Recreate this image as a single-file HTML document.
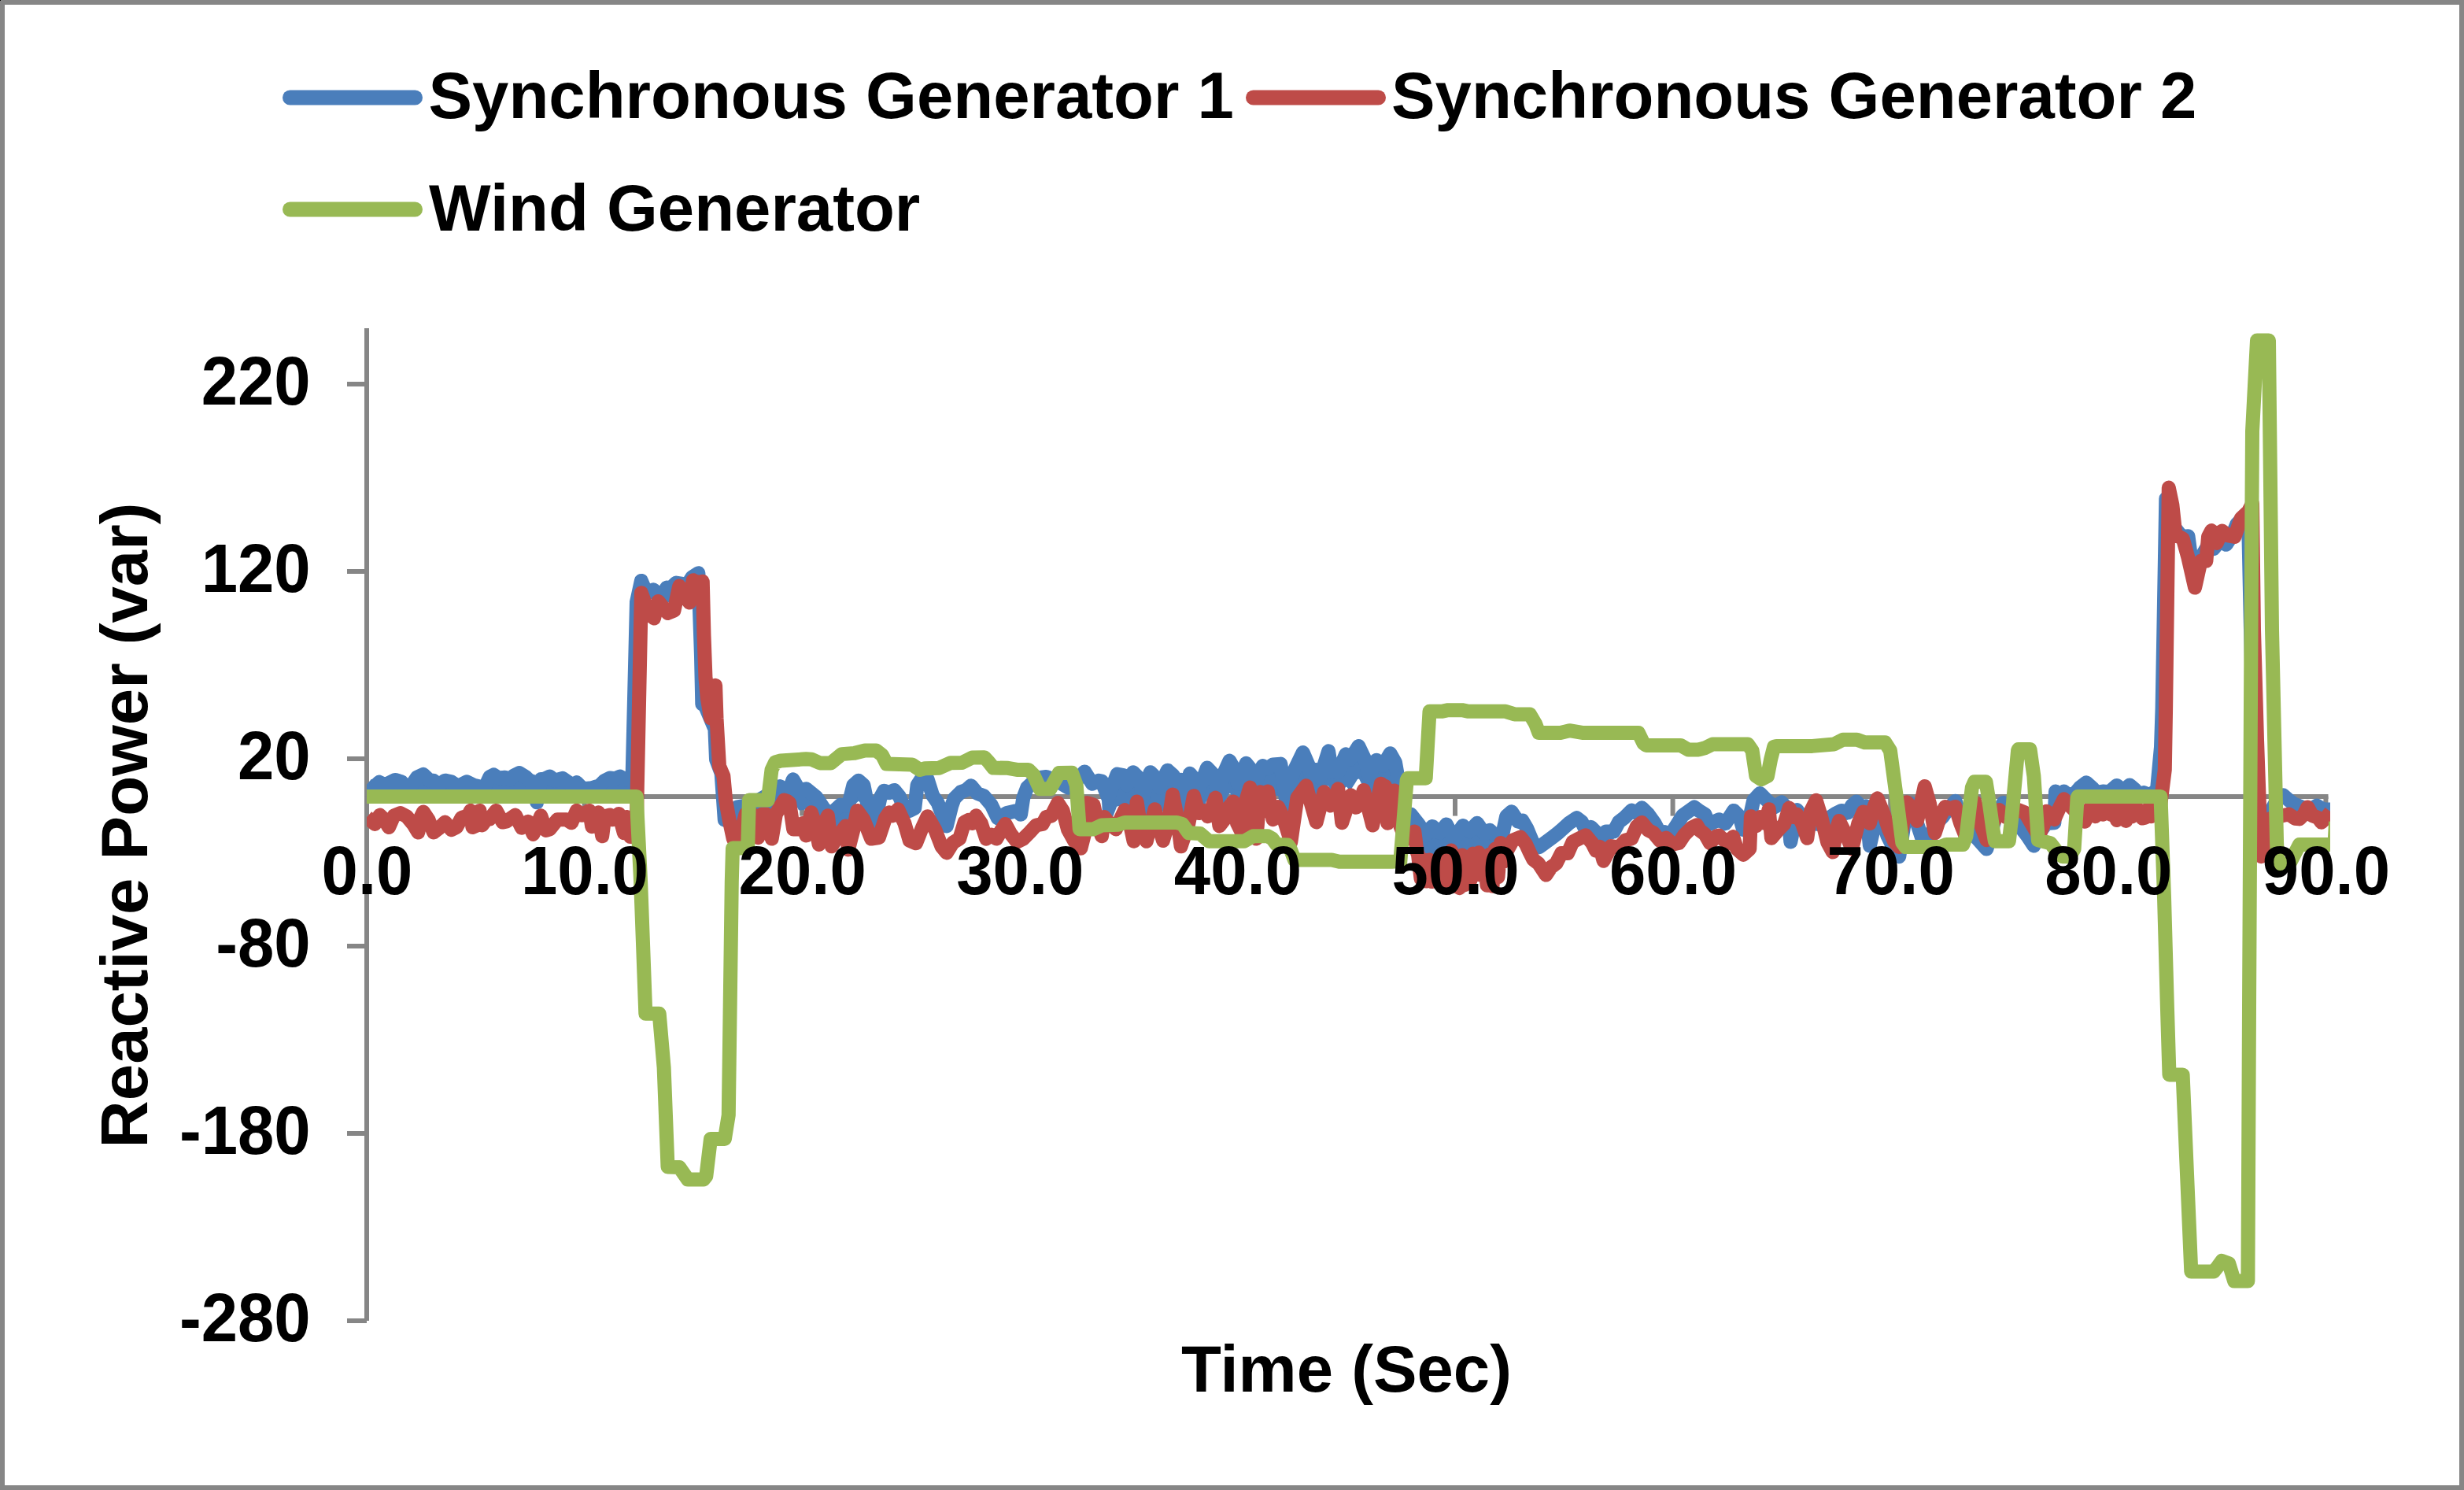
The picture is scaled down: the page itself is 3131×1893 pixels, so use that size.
<!DOCTYPE html>
<html><head><meta charset="utf-8"><title>Reactive Power</title>
<style>
html,body{margin:0;padding:0;background:#fff;}
body{width:3131px;height:1893px;overflow:hidden;}
svg{display:block;}
text{font-family:"Liberation Sans",sans-serif;font-weight:bold;font-size:83.33px;fill:#000;}
.s{fill:none;stroke-width:18;stroke-linejoin:round;stroke-linecap:butt;}
.ax{stroke:#868686;stroke-width:6;fill:none;}
</style></head><body>
<svg width="3131" height="1893" viewBox="0 0 3131 1893">
<rect x="0" y="0" width="3131" height="1893" fill="#868686"/>
<rect x="6" y="6" width="3119" height="1881" fill="#fff"/>
<rect x="0" y="0" width="1" height="1" fill="#000"/>

<g class="ax">
<line x1="466.0" y1="417" x2="466.0" y2="1678.0"/>
<line x1="441.0" y1="488.0" x2="466.0" y2="488.0"/>
<line x1="441.0" y1="726.0" x2="466.0" y2="726.0"/>
<line x1="441.0" y1="964.0" x2="466.0" y2="964.0"/>
<line x1="441.0" y1="1202.0" x2="466.0" y2="1202.0"/>
<line x1="441.0" y1="1440.0" x2="466.0" y2="1440.0"/>
<line x1="441.0" y1="1678.0" x2="466.0" y2="1678.0"/>
<line x1="463.0" y1="1012.1" x2="2958.5" y2="1012.1"/>
<line x1="466.0" y1="1011.6" x2="466.0" y2="1036.6"/>
<line x1="742.6" y1="1011.6" x2="742.6" y2="1036.6"/>
<line x1="1019.2" y1="1011.6" x2="1019.2" y2="1036.6"/>
<line x1="1295.8" y1="1011.6" x2="1295.8" y2="1036.6"/>
<line x1="1572.4" y1="1011.6" x2="1572.4" y2="1036.6"/>
<line x1="1849.0" y1="1011.6" x2="1849.0" y2="1036.6"/>
<line x1="2125.6" y1="1011.6" x2="2125.6" y2="1036.6"/>
<line x1="2402.2" y1="1011.6" x2="2402.2" y2="1036.6"/>
<line x1="2678.8" y1="1011.6" x2="2678.8" y2="1036.6"/>
<line x1="2955.4" y1="1011.6" x2="2955.4" y2="1036.6"/>
</g>
<clipPath id="pc"><rect x="466" y="380" width="2495" height="1320"/></clipPath>
<g clip-path="url(#pc)">
<path fill="#4A7EBB" d="M466,996.6 L468,998.1 L470,999.8 L472,1001.5 L474,1001.3 L476,999.4 L478,997.5 L480,995.5 L482,993.8 L484,994.8 L486,995.8 L488,996.8 L490,997.0 L492,996.0 L494,995.0 L496,994.0 L498,993.0 L500,992.0 L502,991.0 L504,991.4 L506,992.0 L508,992.6 L510,993.2 L512,996.3 L514,999.8 L516,1001.3 L518,999.9 L520,998.5 L522,997.1 L524,995.6 L526,993.4 L528,990.4 L530,987.6 L532,986.7 L534,985.7 L536,984.8 L538,984.0 L540,985.9 L542,987.8 L544,989.8 L546,991.7 L548,991.7 L550,991.7 L552,992.7 L554,994.4 L556,996.2 L558,997.0 L560,995.6 L562,994.2 L564,992.8 L566,991.8 L568,992.2 L570,992.6 L572,993.0 L574,993.6 L576,995.0 L578,996.4 L580,997.7 L582,998.9 L584,997.9 L586,996.9 L588,995.9 L590,994.9 L592,993.9 L594,993.8 L596,994.8 L598,995.8 L600,996.8 L602,997.6 L604,998.1 L606,998.6 L608,999.1 L610,999.6 L612,999.4 L614,998.7 L616,998.0 L618,996.3 L620,991.9 L622,987.6 L624,986.0 L626,985.0 L628,984.9 L630,986.2 L632,987.4 L634,988.5 L636,988.3 L638,988.1 L640,987.9 L642,987.8 L644,988.5 L646,989.3 L648,990.0 L650,988.4 L652,986.4 L654,984.8 L656,983.8 L658,982.8 L660,982.2 L662,983.4 L664,984.6 L666,985.8 L668,987.1 L670,989.1 L672,991.0 L674,992.0 L676,992.9 L678,1001.6 L678,1001.6 L678,1004.0 L678,1004.0 L676,1004.0 L674,1004.0 L672,1004.0 L670,1004.0 L668,1004.0 L666,1004.0 L664,1004.0 L662,1004.0 L660,1004.0 L658,1004.0 L656,1004.0 L654,1004.0 L652,1004.0 L650,1004.0 L648,1004.0 L646,1004.0 L644,1004.0 L642,1004.0 L640,1004.0 L638,1004.0 L636,1004.0 L634,1004.0 L632,1004.0 L630,1004.0 L628,1004.0 L626,1004.0 L624,1004.0 L622,1004.0 L620,1004.0 L618,1004.0 L616,1004.0 L614,1004.0 L612,1004.0 L610,1004.0 L608,1004.0 L606,1004.0 L604,1004.0 L602,1004.0 L600,1004.0 L598,1004.0 L596,1004.0 L594,1004.0 L592,1004.0 L590,1004.0 L588,1004.0 L586,1004.0 L584,1004.0 L582,1004.0 L580,1004.0 L578,1004.0 L576,1004.0 L574,1004.0 L572,1004.0 L570,1004.0 L568,1004.0 L566,1004.0 L564,1004.0 L562,1004.0 L560,1004.0 L558,1004.0 L556,1004.0 L554,1004.0 L552,1004.0 L550,1004.0 L548,1004.0 L546,1004.0 L544,1004.0 L542,1004.0 L540,1004.0 L538,1004.0 L536,1004.0 L534,1004.0 L532,1004.0 L530,1004.0 L528,1004.0 L526,1004.0 L524,1004.0 L522,1004.0 L520,1004.0 L518,1004.0 L516,1004.0 L514,1004.0 L512,1004.0 L510,1004.0 L508,1004.0 L506,1004.0 L504,1004.0 L502,1004.0 L500,1004.0 L498,1004.0 L496,1004.0 L494,1004.0 L492,1004.0 L490,1004.0 L488,1004.0 L486,1004.0 L484,1004.0 L482,1004.0 L480,1004.0 L478,1004.0 L476,1004.0 L474,1004.0 L472,1004.0 L470,1004.0 L468,1004.0 L466,1004.0Z M685,1003.0 L687,991.8 L689,990.1 L691,989.9 L693,989.0 L695,988.1 L697,987.2 L699,986.8 L701,988.4 L703,990.0 L705,991.6 L707,991.1 L709,990.5 L711,990.0 L713,989.4 L715,988.9 L717,990.3 L719,991.6 L721,993.0 L723,994.7 L725,996.4 L727,997.0 L729,996.0 L731,995.0 L733,994.5 L735,996.5 L737,998.5 L739,1000.5 L741,1002.3 L743,1002.1 L745,1001.9 L747,1001.6 L749,1001.4 L751,1001.2 L753,1000.9 L755,1000.3 L757,999.7 L759,999.1 L761,998.5 L763,997.1 L765,995.1 L767,993.1 L769,991.4 L771,990.4 L773,989.4 L775,988.5 L777,988.8 L779,989.0 L781,989.3 L783,988.6 L785,987.7 L787,986.9 L789,987.1 L791,988.2 L793,989.3 L795,990.2 L797,990.5 L799,990.9 L801,990.5 L802,990.3 L802,1004.0 L801,1004.0 L799,1004.0 L797,1004.0 L795,1004.0 L793,1004.0 L791,1004.0 L789,1004.0 L787,1004.0 L785,1004.0 L783,1004.0 L781,1004.0 L779,1004.0 L777,1004.0 L775,1004.0 L773,1004.0 L771,1004.0 L769,1004.0 L767,1004.0 L765,1004.0 L763,1004.0 L761,1004.0 L759,1004.0 L757,1004.0 L755,1004.0 L753,1004.0 L751,1004.0 L749,1004.0 L747,1004.0 L745,1004.0 L743,1004.0 L741,1004.0 L739,1004.0 L737,1004.0 L735,1004.0 L733,1004.0 L731,1004.0 L729,1004.0 L727,1004.0 L725,1004.0 L723,1004.0 L721,1004.0 L719,1004.0 L717,1004.0 L715,1004.0 L713,1004.0 L711,1004.0 L709,1004.0 L707,1004.0 L705,1004.0 L703,1004.0 L701,1004.0 L699,1004.0 L697,1004.0 L695,1004.0 L693,1004.0 L691,1004.0 L689,1004.0 L687,1004.0 L685,1004.0Z M937,1025.5 L939,1025.0 L941,1024.6 L943,1024.3 L945,1023.9 L947,1023.6 L949,1023.2 L951,1022.9 L953,1022.6 L955,1022.0 L957,1020.8 L959,1019.7 L961,1018.5 L963,1017.3 L965,1016.2 L967,1015.0 L969,1013.8 L971,1012.6 L973,1011.4 L975,1010.1 L977,1008.9 L979,1007.7 L981,1006.4 L983,1005.0 L985,1003.5 L987,1002.1 L989,1000.7 L991,999.2 L993,1002.4 L995,1006.2 L997,1009.9 L999,1013.6 L1001,1008.3 L1003,1002.9 L1005,997.6 L1007,992.3 L1009,992.7 L1011,996.2 L1013,999.7 L1015,1003.2 L1017,1003.6 L1019,1003.3 L1021,1002.9 L1023,1002.5 L1025,1002.8 L1027,1004.4 L1029,1006.0 L1031,1007.7 L1033,1009.3 L1035,1010.9 L1037,1012.6 L1039,1015.3 L1041,1018.3 L1043,1021.3 L1045,1024.3 L1047,1027.3 L1049,1029.1 L1051,1030.9 L1053,1032.7 L1055,1034.5 L1057,1033.0 L1059,1031.2 L1061,1029.3 L1063,1027.4 L1065,1025.6 L1067,1023.7 L1069,1022.7 L1071,1022.8 L1073,1023.0 L1075,1023.2 L1077,1023.3 L1079,1019.0 L1081,1011.0 L1083,1003.0 L1085,996.9 L1087,995.1 L1089,993.4 L1091,991.8 L1093,993.5 L1095,995.3 L1097,997.0 L1099,1005.4 L1101,1015.4 L1103,1025.4 L1105,1031.9 L1107,1035.5 L1109,1039.1 L1111,1042.7 L1113,1039.7 L1115,1030.2 L1117,1020.7 L1119,1012.7 L1121,1009.1 L1123,1005.4 L1125,1005.3 L1127,1006.0 L1129,1006.8 L1131,1006.6 L1133,1005.6 L1135,1004.6 L1137,1004.6 L1139,1007.1 L1141,1009.6 L1143,1012.2 L1145,1017.1 L1147,1021.9 L1149,1026.7 L1151,1031.5 L1153,1030.8 L1155,1030.2 L1157,1029.3 L1159,1028.3 L1161,1027.3 L1163,1020.4 L1165,1002.7 L1167,995.3 L1169,992.3 L1171,990.1 L1173,990.1 L1175,990.1 L1177,990.1 L1179,991.3 L1181,997.6 L1183,1003.8 L1185,1010.1 L1187,1013.2 L1189,1016.2 L1191,1019.2 L1193,1023.7 L1195,1029.0 L1197,1034.2 L1199,1039.4 L1201,1044.5 L1203,1049.0 L1205,1041.0 L1207,1033.0 L1209,1025.0 L1211,1019.0 L1213,1014.1 L1215,1012.1 L1217,1010.1 L1219,1008.1 L1221,1006.2 L1223,1005.5 L1225,1004.7 L1227,1004.0 L1229,1002.4 L1231,1000.7 L1233,998.9 L1235,999.7 L1237,1002.1 L1239,1004.5 L1241,1006.9 L1243,1008.4 L1245,1009.2 L1247,1010.0 L1249,1010.8 L1251,1012.4 L1253,1014.7 L1255,1017.1 L1257,1019.4 L1259,1021.8 L1261,1025.3 L1263,1029.4 L1265,1033.6 L1267,1037.7 L1269,1039.0 L1271,1037.8 L1273,1036.7 L1275,1035.5 L1277,1034.4 L1279,1033.2 L1281,1032.7 L1283,1032.2 L1285,1031.7 L1287,1031.2 L1289,1030.7 L1291,1030.2 L1293,1030.7 L1295,1032.6 L1297,1034.6 L1299,1022.2 L1301,1011.7 L1303,1006.4 L1305,1001.1 L1307,998.9 L1309,997.1 L1311,995.2 L1313,993.3 L1315,991.5 L1317,989.6 L1319,988.4 L1321,988.1 L1323,987.8 L1325,987.5 L1327,987.3 L1329,987.0 L1331,987.4 L1333,988.1 L1335,988.8 L1337,989.5 L1339,990.2 L1341,991.0 L1343,992.2 L1345,993.4 L1347,994.6 L1349,995.8 L1351,996.9 L1353,998.1 L1355,999.3 L1357,1000.5 L1359,999.0 L1361,997.3 L1363,995.6 L1365,993.9 L1367,992.2 L1369,990.4 L1371,988.2 L1373,986.0 L1375,983.9 L1377,981.7 L1379,981.7 L1381,984.8 L1383,987.9 L1385,991.1 L1387,994.2 L1389,995.3 L1391,994.3 L1393,993.3 L1395,992.3 L1397,991.9 L1399,992.3 L1401,995.1 L1403,1000.3 L1405,1005.5 L1407,1010.7 L1409,1011.2 L1411,1006.0 L1413,1000.7 L1415,995.4 L1417,990.2 L1419,984.9 L1421,983.9 L1423,984.3 L1425,984.7 L1427,985.1 L1429,989.4 L1431,995.3 L1433,994.8 L1435,990.8 L1437,986.8 L1439,982.8 L1441,982.4 L1443,984.4 L1445,986.4 L1447,988.4 L1449,992.3 L1451,1007.0 L1453,1010.0 L1455,1003.4 L1457,996.7 L1459,990.1 L1461,983.5 L1463,982.5 L1465,984.5 L1467,986.5 L1469,989.8 L1471,995.1 L1473,1000.3 L1475,996.6 L1477,992.5 L1479,988.3 L1481,984.1 L1483,980.0 L1485,979.9 L1487,981.7 L1489,983.5 L1491,985.8 L1493,997.1 L1495,1002.3 L1497,998.2 L1499,994.1 L1501,994.3 L1503,1011.6 L1505,1014.3 L1507,1005.3 L1509,996.3 L1511,987.3 L1513,984.0 L1515,986.5 L1517,989.0 L1519,992.7 L1521,999.8 L1523,1004.4 L1525,999.1 L1527,993.8 L1529,988.5 L1531,983.2 L1533,977.9 L1535,976.7 L1537,978.8 L1539,981.0 L1541,983.2 L1543,985.7 L1545,996.2 L1547,1006.7 L1549,1005.7 L1551,998.5 L1553,991.3 L1555,984.1 L1557,978.5 L1559,974.0 L1561,969.5 L1563,967.8 L1565,971.3 L1567,974.8 L1569,978.8 L1571,987.5 L1573,995.6 L1575,990.6 L1577,985.6 L1579,980.7 L1581,975.7 L1583,970.8 L1585,971.8 L1587,974.3 L1589,976.8 L1591,981.9 L1593,989.2 L1595,995.3 L1597,990.7 L1599,986.0 L1601,981.3 L1603,976.6 L1605,973.3 L1607,974.3 L1609,975.3 L1611,976.3 L1613,974.8 L1615,973.3 L1617,971.8 L1619,971.3 L1621,971.1 L1623,971.0 L1625,970.8 L1627,970.6 L1629,982.1 L1631,995.5 L1633,1009.0 L1635,1010.3 L1637,1003.4 L1639,996.6 L1641,989.8 L1643,982.9 L1645,978.1 L1647,974.0 L1649,969.8 L1651,965.7 L1653,961.6 L1655,957.4 L1657,959.0 L1659,963.7 L1661,968.4 L1663,973.1 L1665,982.2 L1667,986.5 L1669,983.5 L1671,980.5 L1673,978.5 L1675,982.5 L1677,986.5 L1679,983.3 L1681,976.9 L1683,970.6 L1685,964.2 L1687,957.9 L1689,960.1 L1691,972.8 L1693,980.5 L1695,980.7 L1697,980.9 L1699,981.1 L1701,979.6 L1703,974.9 L1705,970.3 L1707,965.6 L1709,961.0 L1711,959.4 L1713,961.8 L1715,964.1 L1717,962.8 L1719,959.6 L1721,956.4 L1723,953.2 L1725,950.0 L1727,949.4 L1729,953.6 L1731,957.8 L1733,962.0 L1735,967.5 L1737,976.1 L1739,984.7 L1741,982.4 L1743,978.3 L1745,974.1 L1747,969.9 L1749,965.7 L1751,967.5 L1753,969.4 L1755,971.2 L1757,973.0 L1759,969.9 L1761,966.5 L1763,963.2 L1765,959.8 L1767,958.2 L1769,961.7 L1771,965.2 L1773,968.7 L1775,980.1 L1777,991.5 L1779,1002.9 L1781,1014.3 L1783,1025.6 L1785,1033.7 L1787,1033.9 L1789,1034.1 L1791,1034.3 L1793,1035.0 L1795,1037.5 L1797,1040.1 L1799,1042.6 L1801,1045.1 L1803,1047.8 L1805,1050.8 L1807,1053.8 L1809,1056.8 L1811,1059.8 L1813,1059.7 L1815,1056.9 L1817,1054.2 L1819,1051.4 L1821,1050.7 L1823,1052.3 L1825,1054.0 L1827,1055.7 L1829,1057.3 L1831,1056.4 L1833,1053.8 L1835,1051.2 L1837,1048.6 L1839,1049.5 L1841,1053.3 L1843,1057.1 L1845,1060.9 L1847,1064.8 L1849,1064.1 L1851,1061.1 L1853,1058.1 L1855,1055.1 L1857,1052.1 L1859,1049.1 L1861,1050.9 L1863,1052.7 L1865,1054.5 L1867,1056.3 L1869,1054.3 L1871,1052.2 L1873,1050.0 L1875,1047.9 L1877,1045.9 L1879,1048.8 L1881,1051.6 L1883,1054.5 L1885,1057.3 L1887,1059.3 L1889,1057.8 L1891,1056.3 L1893,1054.8 L1895,1056.6 L1897,1058.6 L1899,1060.7 L1901,1062.7 L1903,1065.5 L1905,1068.3 L1906,1069.7 L1906,1070.9 L1905,1070.9 L1903,1070.9 L1901,1078.5 L1899,1078.5 L1897,1078.5 L1895,1078.5 L1893,1085.6 L1891,1085.6 L1889,1085.6 L1887,1087.7 L1885,1087.7 L1883,1083.3 L1881,1083.3 L1879,1083.3 L1877,1083.3 L1875,1083.3 L1873,1084.6 L1871,1084.6 L1869,1084.6 L1867,1084.6 L1865,1089.6 L1863,1086.4 L1861,1086.4 L1859,1086.4 L1857,1086.4 L1855,1086.4 L1853,1086.4 L1851,1087.7 L1849,1080.5 L1847,1080.5 L1845,1080.5 L1843,1080.5 L1841,1080.5 L1839,1080.5 L1837,1085.3 L1835,1085.3 L1833,1085.3 L1831,1091.0 L1829,1091.0 L1827,1091.0 L1825,1091.0 L1823,1094.4 L1821,1092.4 L1819,1092.4 L1817,1092.4 L1815,1092.4 L1813,1092.3 L1811,1092.3 L1809,1092.3 L1807,1086.0 L1805,1077.6 L1803,1061.9 L1801,1056.7 L1799,1056.7 L1797,1056.7 L1795,1056.7 L1793,1056.7 L1791,1057.5 L1789,1059.2 L1787,1056.1 L1785,1051.1 L1783,1041.5 L1781,1030.2 L1779,1019.0 L1777,1007.8 L1775,1006.4 L1773,1006.4 L1771,1005.2 L1769,1001.7 L1767,998.2 L1765,998.7 L1763,998.7 L1761,998.7 L1759,998.3 L1757,998.3 L1755,998.3 L1753,998.3 L1751,998.3 L1749,999.3 L1747,1009.4 L1745,1014.1 L1743,1018.3 L1741,1016.4 L1739,1008.6 L1737,1004.7 L1735,1004.7 L1733,1002.0 L1731,997.8 L1729,993.6 L1727,989.4 L1725,990.0 L1723,993.2 L1721,996.4 L1719,999.6 L1717,1002.8 L1715,1004.1 L1713,1001.8 L1711,999.4 L1709,1001.0 L1707,1005.6 L1705,1003.4 L1703,1003.4 L1701,1003.4 L1699,1003.4 L1697,1003.4 L1695,1003.4 L1693,1010.4 L1691,1012.8 L1689,1000.1 L1687,997.9 L1685,1004.2 L1683,1007.4 L1681,1007.4 L1679,1007.4 L1677,1008.2 L1675,1016.0 L1673,1018.5 L1671,1020.5 L1669,1013.8 L1667,1006.6 L1665,999.3 L1663,999.2 L1661,999.2 L1659,999.2 L1657,999.0 L1655,997.4 L1653,1000.5 L1651,1003.2 L1649,1006.0 L1647,1008.7 L1645,1011.4 L1643,1016.4 L1641,1029.8 L1639,1036.6 L1637,1042.8 L1635,1037.0 L1633,1033.0 L1631,1029.0 L1629,1022.1 L1627,1010.6 L1625,1010.8 L1623,1011.0 L1621,1011.1 L1619,1011.3 L1617,1011.0 L1615,1005.5 L1613,1005.5 L1611,1005.5 L1609,1005.5 L1607,1005.5 L1605,1009.7 L1603,1009.7 L1601,1009.7 L1599,1009.7 L1597,1009.7 L1595,1014.2 L1593,1001.6 L1591,1001.6 L1589,1001.6 L1587,1001.6 L1585,1001.6 L1583,1001.6 L1581,1008.1 L1579,1014.6 L1577,1021.1 L1575,1030.6 L1573,1023.0 L1571,1018.7 L1569,1018.7 L1567,1014.8 L1565,1011.3 L1563,1007.8 L1561,1009.5 L1559,1014.0 L1557,1018.5 L1555,1024.1 L1553,1031.3 L1551,1024.6 L1549,1014.9 L1547,1014.9 L1545,1014.9 L1543,1014.9 L1541,1014.9 L1539,1014.9 L1537,1018.8 L1535,1016.7 L1533,1017.9 L1531,1023.2 L1529,1028.5 L1527,1028.4 L1525,1021.6 L1523,1014.9 L1521,1011.5 L1519,1011.5 L1517,1011.5 L1515,1011.5 L1513,1011.5 L1511,1016.0 L1509,1026.8 L1507,1037.5 L1505,1047.3 L1503,1051.6 L1501,1034.3 L1499,1029.0 L1497,1019.1 L1495,1010.2 L1493,1010.2 L1491,1010.2 L1489,1010.2 L1487,1010.2 L1485,1010.2 L1483,1020.0 L1481,1024.1 L1479,1028.3 L1477,1032.5 L1475,1036.6 L1473,1030.9 L1471,1029.7 L1469,1029.7 L1467,1026.5 L1465,1024.5 L1463,1022.5 L1461,1023.5 L1459,1030.1 L1457,1036.7 L1455,1043.4 L1453,1041.4 L1451,1027.9 L1449,1021.2 L1447,1021.2 L1445,1021.2 L1443,1021.2 L1441,1021.2 L1439,1022.8 L1437,1026.8 L1435,1030.8 L1433,1029.5 L1431,1029.5 L1429,1029.4 L1427,1025.1 L1425,1024.7 L1423,1024.3 L1421,1023.9 L1419,1024.9 L1417,1030.2 L1415,1035.4 L1413,1040.7 L1411,1041.5 L1409,1039.0 L1407,1039.0 L1405,1039.0 L1403,1039.0 L1401,1035.1 L1399,998.3 L1397,997.9 L1395,998.3 L1393,999.3 L1391,1000.3 L1389,1001.3 L1387,1000.2 L1385,997.1 L1383,993.9 L1381,990.8 L1379,987.7 L1377,987.7 L1375,989.9 L1373,992.0 L1371,994.2 L1369,996.4 L1367,998.2 L1365,999.9 L1363,1001.6 L1361,1003.3 L1359,1005.0 L1357,1006.5 L1355,1005.3 L1353,1004.1 L1351,1002.9 L1349,1001.8 L1347,1000.6 L1345,999.4 L1343,998.2 L1341,997.0 L1339,996.2 L1337,995.5 L1335,994.8 L1333,994.1 L1331,993.4 L1329,993.0 L1327,993.3 L1325,993.5 L1323,993.8 L1321,994.1 L1319,994.4 L1317,995.6 L1315,997.5 L1313,999.3 L1311,1001.2 L1309,1003.1 L1307,1004.9 L1305,1007.1 L1303,1012.4 L1301,1017.7 L1299,1028.2 L1297,1040.6 L1295,1038.6 L1293,1036.7 L1291,1036.2 L1289,1036.7 L1287,1037.2 L1285,1037.7 L1283,1038.2 L1281,1038.7 L1279,1039.2 L1277,1040.4 L1275,1041.5 L1273,1042.7 L1271,1043.8 L1269,1045.0 L1267,1043.7 L1265,1039.6 L1263,1035.4 L1261,1031.3 L1259,1027.8 L1257,1025.4 L1255,1023.1 L1253,1020.7 L1251,1018.4 L1249,1016.8 L1247,1016.0 L1245,1015.2 L1243,1014.4 L1241,1012.9 L1239,1010.5 L1237,1008.1 L1235,1005.7 L1233,1004.9 L1231,1006.7 L1229,1008.4 L1227,1010.0 L1225,1010.7 L1223,1011.5 L1221,1012.2 L1219,1014.1 L1217,1016.1 L1215,1018.1 L1213,1020.1 L1211,1025.0 L1209,1031.0 L1207,1039.0 L1205,1047.0 L1203,1055.0 L1201,1050.5 L1199,1045.4 L1197,1040.2 L1195,1035.0 L1193,1029.7 L1191,1025.2 L1189,1022.2 L1187,1019.2 L1185,1016.1 L1183,1009.8 L1181,1003.6 L1179,997.3 L1177,996.1 L1175,996.1 L1173,996.1 L1171,996.1 L1169,998.3 L1167,1001.3 L1165,1008.7 L1163,1026.4 L1161,1033.3 L1159,1034.3 L1157,1035.3 L1155,1036.2 L1153,1036.8 L1151,1037.5 L1149,1032.7 L1147,1027.9 L1145,1023.1 L1143,1018.2 L1141,1015.6 L1139,1013.1 L1137,1010.6 L1135,1010.6 L1133,1011.6 L1131,1012.6 L1129,1012.8 L1127,1012.0 L1125,1011.3 L1123,1011.4 L1121,1015.1 L1119,1018.7 L1117,1026.7 L1115,1036.2 L1113,1045.7 L1111,1048.7 L1109,1045.1 L1107,1041.5 L1105,1037.9 L1103,1031.4 L1101,1021.4 L1099,1031.4 L1097,1023.0 L1095,1021.3 L1093,1019.5 L1091,1017.8 L1089,1019.4 L1087,1021.1 L1085,1022.9 L1083,1029.0 L1081,1037.0 L1079,1045.0 L1077,1049.3 L1075,1049.2 L1073,1049.0 L1071,1048.8 L1069,1048.7 L1067,1049.7 L1065,1051.6 L1063,1053.4 L1061,1055.3 L1059,1053.1 L1057,1037.2 L1055,1037.2 L1053,1037.2 L1051,1037.2 L1049,1037.2 L1047,1037.2 L1045,1040.2 L1043,1044.3 L1041,1044.3 L1039,1041.3 L1037,1035.7 L1035,1032.9 L1033,1032.9 L1031,1032.9 L1029,1032.0 L1027,1030.4 L1025,1028.8 L1023,1028.5 L1021,1028.9 L1019,1029.3 L1017,1029.6 L1015,1029.2 L1013,1025.7 L1011,1022.2 L1009,1018.7 L1007,1018.3 L1005,1017.7 L1003,1017.0 L1001,1016.7 L999,1016.7 L997,1016.7 L995,1016.7 L993,1016.7 L991,1017.2 L989,1020.6 L987,1024.0 L985,1027.5 L983,1030.9 L981,1032.4 L979,1033.7 L977,1034.5 L975,1034.5 L973,1034.5 L971,1034.5 L969,1034.5 L967,1034.5 L965,1034.5 L963,1037.3 L961,1034.5 L959,1034.5 L957,1034.5 L955,1034.5 L953,1034.5 L951,1034.5 L949,1034.5 L947,1034.5 L945,1034.5 L943,1034.5 L941,1040.2 L939,1047.8 L937,1051.5Z M1908,1065.9 L1910,1056.5 L1912,1047.2 L1914,1037.8 L1916,1035.3 L1918,1033.6 L1920,1031.8 L1922,1033.2 L1924,1036.2 L1926,1039.2 L1928,1042.2 L1930,1043.2 L1932,1043.0 L1934,1042.7 L1936,1045.2 L1938,1048.6 L1940,1052.0 L1942,1056.6 L1944,1061.4 L1946,1066.3 L1948,1071.1 L1950,1072.6 L1952,1073.6 L1954,1074.6 L1956,1075.6 L1958,1074.6 L1960,1073.1 L1962,1071.7 L1964,1070.2 L1966,1068.7 L1968,1067.2 L1970,1065.7 L1972,1064.2 L1974,1062.7 L1976,1061.2 L1978,1059.7 L1980,1058.1 L1982,1056.3 L1984,1054.5 L1986,1052.7 L1988,1051.0 L1990,1049.2 L1992,1047.4 L1994,1045.7 L1996,1044.3 L1998,1043.0 L2000,1041.6 L2002,1040.3 L2004,1039.7 L2006,1041.2 L2008,1042.7 L2010,1044.2 L2012,1048.5 L2014,1052.8 L2016,1056.1 L2018,1054.1 L2020,1052.1 L2022,1051.3 L2024,1053.3 L2026,1055.3 L2028,1057.4 L2030,1061.8 L2032,1066.2 L2034,1065.9 L2036,1063.1 L2038,1060.3 L2040,1057.5 L2042,1056.4 L2044,1056.4 L2046,1056.4 L2048,1056.4 L2050,1056.4 L2052,1053.8 L2054,1050.0 L2056,1046.3 L2058,1043.5 L2060,1042.0 L2062,1040.5 L2064,1038.9 L2066,1036.9 L2068,1034.9 L2070,1032.9 L2072,1030.9 L2074,1029.9 L2076,1030.9 L2078,1031.9 L2080,1032.6 L2082,1030.6 L2084,1028.6 L2086,1026.6 L2088,1028.0 L2090,1030.0 L2092,1032.0 L2094,1034.0 L2096,1036.7 L2098,1039.5 L2100,1042.3 L2102,1045.1 L2104,1048.7 L2106,1052.5 L2108,1056.3 L2110,1060.1 L2112,1060.1 L2114,1058.4 L2116,1057.5 L2118,1058.7 L2120,1060.0 L2122,1061.2 L2124,1058.2 L2126,1055.2 L2128,1052.2 L2130,1049.2 L2132,1046.1 L2134,1042.8 L2136,1039.6 L2138,1036.4 L2140,1034.8 L2142,1033.4 L2144,1031.9 L2146,1030.5 L2148,1029.0 L2150,1027.6 L2152,1026.1 L2154,1026.3 L2156,1027.8 L2158,1029.2 L2160,1030.7 L2162,1031.9 L2164,1033.2 L2166,1034.4 L2168,1038.4 L2170,1043.4 L2172,1046.6 L2174,1045.8 L2176,1044.9 L2178,1044.0 L2180,1043.1 L2182,1042.3 L2184,1041.4 L2186,1042.2 L2188,1043.4 L2190,1044.6 L2192,1045.8 L2194,1043.8 L2196,1040.7 L2198,1037.6 L2200,1034.5 L2202,1031.4 L2204,1030.9 L2206,1032.9 L2208,1034.9 L2210,1036.9 L2212,1043.1 L2214,1050.0 L2216,1053.2 L2218,1050.7 L2219,1049.5 L2219,1059.5 L2218,1060.7 L2216,1063.2 L2214,1060.0 L2212,1053.1 L2210,1046.9 L2208,1044.9 L2206,1042.9 L2204,1040.9 L2202,1041.4 L2200,1044.5 L2198,1047.6 L2196,1050.7 L2194,1053.8 L2192,1055.8 L2190,1054.6 L2188,1053.4 L2186,1052.2 L2184,1051.4 L2182,1052.3 L2180,1053.1 L2178,1054.0 L2176,1054.9 L2174,1055.8 L2172,1056.6 L2170,1053.4 L2168,1048.4 L2166,1044.4 L2164,1043.2 L2162,1041.9 L2160,1040.7 L2158,1039.2 L2156,1037.8 L2154,1036.3 L2152,1036.1 L2150,1037.6 L2148,1039.0 L2146,1040.5 L2144,1041.9 L2142,1043.4 L2140,1044.8 L2138,1046.4 L2136,1049.6 L2134,1052.8 L2132,1056.1 L2130,1059.2 L2128,1062.2 L2126,1065.2 L2124,1066.4 L2122,1064.5 L2120,1064.5 L2118,1064.5 L2116,1064.5 L2114,1064.5 L2112,1064.5 L2110,1062.9 L2108,1060.5 L2106,1058.1 L2104,1057.0 L2102,1055.1 L2100,1052.3 L2098,1049.5 L2096,1046.7 L2094,1044.0 L2092,1042.0 L2090,1040.0 L2088,1038.0 L2086,1036.6 L2084,1038.6 L2082,1040.6 L2080,1042.6 L2078,1041.9 L2076,1040.9 L2074,1039.9 L2072,1040.9 L2070,1042.9 L2068,1044.9 L2066,1046.9 L2064,1048.9 L2062,1050.5 L2060,1052.0 L2058,1053.5 L2056,1056.3 L2054,1060.0 L2052,1063.8 L2050,1066.4 L2048,1066.4 L2046,1066.4 L2044,1066.4 L2042,1066.4 L2040,1067.5 L2038,1070.3 L2036,1073.1 L2034,1075.9 L2032,1076.2 L2030,1071.8 L2028,1067.4 L2026,1065.3 L2024,1063.3 L2022,1061.3 L2020,1061.3 L2018,1061.3 L2016,1061.3 L2014,1061.3 L2012,1058.5 L2010,1054.2 L2008,1052.7 L2006,1051.2 L2004,1049.7 L2002,1050.3 L2000,1051.6 L1998,1053.0 L1996,1054.3 L1994,1055.7 L1992,1057.4 L1990,1059.2 L1988,1061.0 L1986,1062.7 L1984,1064.5 L1982,1066.3 L1980,1068.1 L1978,1069.7 L1976,1071.2 L1974,1072.7 L1972,1074.2 L1970,1075.7 L1968,1077.2 L1966,1078.7 L1964,1080.2 L1962,1081.7 L1960,1083.1 L1958,1084.6 L1956,1085.6 L1954,1084.6 L1952,1083.6 L1950,1082.6 L1948,1081.1 L1946,1076.3 L1944,1071.4 L1942,1066.6 L1940,1062.0 L1938,1058.6 L1936,1055.2 L1934,1052.7 L1932,1053.0 L1930,1053.2 L1928,1052.2 L1926,1049.2 L1924,1046.2 L1922,1043.2 L1920,1041.8 L1918,1043.6 L1916,1045.3 L1914,1047.8 L1912,1057.2 L1910,1070.9 L1908,1070.9Z M2224,1035.8 L2226,1026.8 L2228,1017.8 L2230,1014.9 L2232,1012.7 L2234,1010.5 L2236,1008.3 L2238,1009.7 L2240,1011.7 L2242,1013.6 L2244,1015.6 L2246,1017.6 L2248,1019.5 L2250,1020.9 L2252,1022.3 L2254,1023.7 L2256,1024.9 L2258,1023.5 L2260,1022.0 L2262,1020.6 L2264,1019.4 L2266,1021.6 L2268,1023.8 L2270,1026.0 L2270,1026.0 L2270,1027.5 L2270,1027.5 L2268,1028.5 L2266,1031.6 L2264,1029.4 L2262,1030.6 L2260,1032.0 L2258,1033.5 L2256,1034.9 L2254,1033.7 L2252,1030.8 L2250,1030.8 L2248,1029.5 L2246,1027.6 L2244,1025.6 L2242,1023.6 L2240,1021.7 L2238,1019.7 L2236,1018.3 L2234,1020.5 L2232,1022.7 L2230,1024.9 L2228,1027.8 L2226,1036.8 L2224,1037.4Z M2283,1031.1 L2285,1031.3 L2287,1034.0 L2287,1034.0 L2287,1035.0 L2287,1035.0 L2285,1035.0 L2283,1035.0Z M2292,1039.8 L2294,1041.4 L2294,1041.4 L2294,1044.5 L2294,1044.5 L2292,1041.0Z M2321,1043.7 L2323,1041.2 L2325,1038.7 L2327,1037.1 L2329,1035.9 L2331,1034.6 L2333,1033.5 L2335,1032.5 L2337,1031.5 L2339,1030.5 L2341,1030.1 L2343,1030.7 L2345,1031.3 L2347,1031.9 L2349,1031.0 L2351,1027.4 L2353,1023.8 L2355,1021.9 L2357,1020.1 L2359,1018.6 L2361,1020.6 L2363,1022.6 L2365,1024.6 L2367,1025.5 L2369,1024.9 L2371,1024.2 L2371,1024.2 L2371,1031.9 L2371,1031.9 L2369,1031.9 L2367,1031.9 L2365,1031.9 L2363,1031.9 L2361,1030.6 L2359,1028.6 L2357,1030.1 L2355,1031.9 L2353,1033.8 L2351,1037.4 L2349,1041.0 L2347,1041.9 L2345,1041.3 L2343,1040.7 L2341,1040.1 L2339,1040.5 L2337,1041.5 L2335,1042.5 L2333,1043.1 L2331,1044.6 L2329,1045.9 L2327,1047.1 L2325,1048.7 L2323,1051.2 L2321,1045.2Z M2479,1024.0 L2481,1021.8 L2483,1019.6 L2485,1018.6 L2486,1021.8 L2486,1025.3 L2485,1025.3 L2483,1025.3 L2481,1025.3 L2479,1025.3Z M2541,1028.3 L2543,1024.7 L2545,1021.0 L2547,1023.4 L2549,1027.8 L2551,1032.3 L2551,1032.3 L2551,1035.0 L2551,1035.0 L2549,1032.8 L2547,1030.6 L2545,1029.5 L2543,1029.5 L2541,1029.5Z M2612,1005.5 L2614,1007.5 L2616,1009.5 L2618,1009.5 L2620,1007.7 L2622,1006.0 L2624,1006.7 L2626,1008.5 L2628,1010.3 L2630,1011.9 L2632,1010.5 L2634,1009.1 L2636,1007.7 L2638,1006.3 L2640,1004.0 L2642,1001.6 L2644,999.7 L2646,998.2 L2648,996.6 L2650,995.0 L2652,995.1 L2654,996.9 L2656,998.7 L2658,1000.5 L2660,1002.5 L2662,1004.8 L2664,1007.1 L2666,1006.7 L2668,1006.3 L2670,1005.9 L2672,1005.5 L2674,1005.7 L2676,1005.9 L2678,1006.1 L2680,1006.3 L2682,1004.7 L2684,1003.0 L2686,1001.3 L2688,999.5 L2690,998.0 L2692,999.6 L2694,1001.3 L2696,1003.0 L2698,1004.6 L2700,1003.0 L2702,1001.2 L2704,999.4 L2706,997.6 L2708,999.0 L2710,1000.7 L2712,1002.5 L2714,1004.6 L2716,1007.0 L2718,1008.7 L2720,1008.1 L2722,1007.6 L2724,1007.1 L2726,1007.9 L2728,1008.7 L2730,1009.5 L2732,1010.4 L2734,1008.9 L2736,1007.3 L2737,1006.5 L2737,1016.5 L2736,1017.3 L2734,1018.9 L2732,1020.4 L2730,1019.5 L2728,1018.7 L2726,1017.9 L2724,1017.1 L2722,1017.6 L2720,1018.1 L2718,1018.7 L2716,1017.0 L2714,1014.6 L2712,1012.5 L2710,1010.7 L2708,1009.0 L2706,1007.6 L2704,1009.4 L2702,1011.2 L2700,1013.0 L2698,1014.6 L2696,1013.0 L2694,1011.3 L2692,1009.6 L2690,1008.0 L2688,1009.5 L2686,1011.3 L2684,1013.0 L2682,1014.7 L2680,1016.3 L2678,1016.1 L2676,1015.9 L2674,1015.7 L2672,1015.5 L2670,1015.9 L2668,1016.3 L2666,1016.7 L2664,1017.1 L2662,1014.8 L2660,1012.5 L2658,1010.5 L2656,1008.7 L2654,1006.9 L2652,1005.1 L2650,1005.0 L2648,1006.6 L2646,1008.2 L2644,1009.7 L2642,1011.6 L2640,1014.0 L2638,1016.3 L2636,1017.7 L2634,1019.1 L2632,1020.2 L2630,1018.0 L2628,1015.7 L2626,1015.7 L2624,1015.7 L2622,1015.7 L2620,1015.7 L2618,1015.7 L2616,1018.5 L2614,1017.5 L2612,1015.5Z M2897,1010.9 L2899,1010.6 L2901,1010.3 L2903,1011.9 L2905,1013.6 L2907,1015.4 L2909,1017.1 L2911,1018.6 L2913,1020.1 L2915,1021.4 L2917,1022.2 L2919,1023.1 L2921,1023.9 L2923,1024.7 L2925,1025.6 L2926,1026.0 L2926,1028.0 L2925,1030.0 L2923,1034.1 L2921,1033.9 L2919,1033.1 L2917,1032.2 L2915,1031.4 L2913,1030.1 L2911,1028.6 L2909,1027.1 L2907,1025.4 L2905,1023.6 L2903,1021.9 L2901,1020.3 L2899,1020.6 L2897,1020.9Z M2939,1026.6 L2941,1025.4 L2943,1024.2 L2945,1024.2 L2947,1025.4 L2949,1026.6 L2951,1027.4 L2953,1027.9 L2955,1028.4 L2957,1028.6 L2959,1028.6 L2961,1028.6 L2961,1028.6 L2961,1032.4 L2961,1032.4 L2959,1032.4 L2957,1032.4 L2955,1033.6 L2953,1036.1 L2951,1037.4 L2949,1036.6 L2947,1035.4 L2945,1034.2 L2943,1034.2 L2941,1032.3 L2939,1028.7Z"/>
<path class="s" stroke="#4A7EBB" d="M466.2,996.6 L473,1002.3 L481.9,993.7 L489.2,997.4 L502.2,990.9 L510.3,993.3 L515.2,1001.9 L524.9,995 L529.8,987.7 L537.9,983.9 L546,991.7 L550.9,991.7 L557.4,997.4 L565.5,991.7 L573.6,993.3 L581.8,999 L593.1,993.3 L601.2,997.4 L611,999.8 L617.5,997.4 L622.3,986.9 L627.2,984.4 L633.7,988.5 L641.8,987.7 L648.3,990.1 L653.2,985.2 L659.7,982 L667.8,986.9 L672.7,991.7 L675.9,992.5 L682.1,1019.3 L687.3,990.1 L690.5,990.1 L698.6,986.5 L705.1,991.7 L714.9,988.8 L721.4,993.3 L726.2,997.4 L732.7,994.2 L740.8,1002.3 L752.2,1001.1 L761.9,998.2 L768.4,991.7 L774.9,988.5 L781.4,989.3 L787.9,986.5 L794.4,990.1 L799.3,990.9 L803.5,990 L809,765 L814.9,737.9 L821.6,753.7 L830.3,749.3 L837.7,756.4 L843.1,753.7 L847.1,746.6 L849.8,756.4 L852.5,747 L859.2,740.5 L867.2,741.9 L872.6,744.3 L879.3,733.6 L887.4,728.2 L889,775.2 L891,834.2 L892.3,894.6 L894.5,893.2 L908.4,926.3 L910,964.7 L916.6,982.2 L920.8,1041.5 L926.6,1043.2 L937.1,1025.3 L954.5,1022.3 L969.4,1013.6 L980.7,1006.6 L991.2,999.1 L999,1013.6 L1007.7,990.4 L1015.4,1003.9 L1024.4,1002.3 L1037.3,1012.8 L1047.1,1027.4 L1055.2,1034.7 L1068.2,1022.6 L1077.9,1023.4 L1084.4,997.4 L1090.9,991.7 L1097.4,997.4 L1103.9,1029.9 L1112,1044.5 L1118.5,1013.6 L1123.4,1004.7 L1129.9,1007.1 L1136.4,1003.9 L1142.9,1012 L1151,1031.5 L1155.8,1029.9 L1162.3,1026.6 L1165.6,997.4 L1170.5,990.1 L1178.6,990.1 L1185.1,1010.4 L1191.6,1020.1 L1199.7,1041.2 L1202.9,1049.4 L1209.4,1023.4 L1212.7,1014.4 L1220.8,1006.3 L1227.3,1003.9 L1233.8,998.2 L1241.9,1008 L1250,1011.2 L1259.7,1022.6 L1267.9,1039.6 L1279.2,1033.1 L1292.2,1029.9 L1297.1,1034.7 L1300.3,1013.6 L1305.2,1000.6 L1318.2,988.5 L1329.5,986.9 L1340.9,990.9 L1357.1,1000.6 L1368.5,990.9 L1378.2,980.4 L1388,995.8 L1396.1,991.7 L1400,992.5 L1408.1,1013.6 L1419.5,983.6 L1427.6,985.2 L1431.7,997.4 L1439.8,981.2 L1448.7,990.1 L1451.9,1013.6 L1461.7,981.2 L1468.2,987.7 L1473.1,1000.6 L1483.6,978.7 L1490.9,985.2 L1494.2,1003.9 L1500.6,990.9 L1503.9,1019.3 L1512,982.8 L1518.5,990.9 L1522.6,1005.5 L1533.9,975.5 L1542.9,985.2 L1547.7,1010.4 L1555.8,981.2 L1562.3,966.6 L1568.8,977.9 L1572.9,995.8 L1583.4,969.8 L1589.9,977.9 L1594.8,995.8 L1604.5,973.1 L1611,976.3 L1617.5,971.4 L1627.3,970.6 L1633.8,1014.4 L1643.5,981.2 L1655.7,956 L1663,973.1 L1666.2,987.7 L1672.7,977.9 L1677.6,987.7 L1688.1,954.4 L1692.2,980.4 L1700.3,981.2 L1710.1,958.4 L1715.7,964.9 L1726.3,947.9 L1734.4,964.9 L1739.3,986 L1749,965.7 L1757.1,973.1 L1766.5,957.3 L1773,968.7 L1778.7,1001.2 L1784.4,1033.6 L1792.5,1034.4 L1802.2,1046.6 L1811.9,1061.2 L1820.1,1049.9 L1829.8,1058 L1837.9,1047.4 L1847.7,1066.1 L1859,1049.1 L1867.1,1056.4 L1876.9,1045.8 L1886.6,1059.6 L1893.1,1054.7 L1901.2,1062.9 L1906.9,1071 L1914.2,1036.9 L1920.7,1031.2 L1928.8,1043.4 L1934.5,1042.6 L1940.2,1052.3 L1948.3,1071.8 L1956.4,1075.8 L1962.9,1071 L1972.7,1063.7 L1979.2,1058.8 L1985.6,1053.1 L1993.8,1045.8 L2003.5,1039.3 L2010,1044.2 L2015.7,1056.4 L2021.4,1050.7 L2027.9,1057.2 L2032.7,1067.7 L2040.8,1056.4 L2050.6,1056.4 L2057.1,1044.2 L2063.6,1039.3 L2073.3,1029.6 L2079.8,1032.8 L2086.3,1026.3 L2094.4,1034.4 L2102.5,1045.8 L2110.6,1061.2 L2115.5,1057.2 L2122,1061.2 L2130.1,1049.1 L2138.2,1036.1 L2152.9,1025.5 L2160,1030.7 L2166.5,1034.7 L2171.4,1046.9 L2184.4,1041.2 L2192.5,1046.1 L2203,1029.9 L2210.3,1037.2 L2215.2,1054.2 L2221.7,1046.1 L2228.2,1016.9 L2236.3,1008 L2247.7,1019.3 L2255.8,1025 L2263.9,1019.3 L2272,1028.2 L2275.3,1069.6 L2283.4,1029.1 L2289.9,1038 L2299.6,1046.1 L2309.4,1046.9 L2319.1,1046.1 L2325.6,1038 L2332.1,1033.9 L2340.2,1029.9 L2348.3,1032.3 L2353.2,1023.4 L2358.9,1018.5 L2366.2,1025.8 L2371,1024.2 L2375.9,1074.5 L2382.4,1046.1 L2390.5,1038 L2398.6,1062.3 L2406.8,1078.6 L2413.2,1088.3 L2419.7,1046.1 L2427.9,1020.9 L2436,1046.1 L2444.1,1070.5 L2452.2,1062.3 L2460.3,1046.1 L2468.4,1038 L2476.6,1026.6 L2484.7,1017.7 L2491.2,1038 L2500.9,1054.2 L2509.7,1062.3 L2524.4,1078.6 L2535.7,1038 L2545.5,1020.1 L2553.6,1038 L2568.2,1051.8 L2576.3,1062.3 L2584.4,1074.5 L2594.2,1054.2 L2600.6,1046.1 L2610.4,1045.3 L2612,1005.5 L2616.9,1010.4 L2622.6,1005.5 L2629.9,1012 L2638,1006.3 L2642.9,1000.6 L2651,994.2 L2659.1,1001.5 L2664,1007.1 L2672.1,1005.5 L2680.2,1006.3 L2689.9,997.9 L2698.1,1004.7 L2706.2,997.4 L2712.7,1003.1 L2717.5,1008.8 L2724,1007.1 L2732.1,1010.4 L2740.3,1003.9 L2741,1003 L2746,949 L2747.6,900 L2752.3,633.6 L2761.7,668.5 L2772.5,681.9 L2780.5,681.3 L2785.9,722.1 L2789.9,738.3 L2796.6,708.7 L2807.4,689.9 L2812.8,697.2 L2820.8,687.2 L2828.9,691.8 L2836.9,679.2 L2842.3,665.8 L2850.3,657.7 L2857,660 L2860,800 L2866,1060 L2880,1040 L2896.8,1010.9 L2901.2,1010.3 L2908.6,1016.8 L2914.5,1021.2 L2923.4,1024.9 L2932.2,1028.6 L2938.1,1027.1 L2944,1023.6 L2949.9,1027.1 L2955.8,1028.6 L2961.7,1028.6"/>
<path class="s" stroke="#BE4B48" d="M466.2,1038 L476.2,1046.9 L482.7,1035.6 L488.4,1041.2 L494.1,1051 L500.6,1036.4 L508.7,1033.1 L516.8,1037.2 L524.9,1046.9 L531.4,1057.5 L534.7,1038 L537.9,1031.5 L544.4,1041.2 L550.9,1057.5 L557.4,1052.6 L565.5,1044.5 L573.6,1054.2 L580.1,1051 L586.6,1038.8 L594.7,1036.4 L598,1029.9 L600.4,1051 L606.1,1048.5 L609.4,1029.9 L612.6,1048.5 L619.1,1039.6 L622.3,1040.4 L630.5,1029.9 L638.6,1044.5 L643.4,1043.7 L654.8,1035.6 L662.9,1051.8 L671,1043.7 L677.5,1059.9 L687.3,1036.4 L693.8,1055 L698.6,1053.4 L708.4,1041.2 L719.7,1041.2 L726.2,1045.3 L732.7,1029.9 L739.2,1035.6 L749,1029.9 L752.2,1050.2 L760.3,1032.3 L765.2,1062.3 L768.4,1037.2 L774.9,1035.6 L778.2,1041.2 L786.3,1033.9 L792.8,1058.3 L796,1038 L799.3,1048.5 L800.9,1063.1 L808.5,1063 L814.9,753.3 L823,775.2 L831,785.6 L836.4,764 L848.5,778.9 L856.5,775.6 L863.2,744.6 L876,765.5 L880.7,737.2 L886.7,740.3 L892.8,738.8 L894.5,807.4 L896.5,861.1 L898.7,886.2 L903,912.4 L909.1,870.8 L910.5,912.4 L914,973.4 L919.3,985.7 L922.2,1017.1 L926.9,1043.2 L931.8,1065.9 L940.6,1060.7 L947.5,1034.5 L956.3,1034.5 L963.2,1064.2 L968.5,1034.5 L973.7,1034.5 L980.7,1065.6 L985.9,1034.5 L996.4,1016.5 L1000,1017.7 L1003.2,1020.1 L1008.1,1053.4 L1016.2,1053.4 L1019.5,1046.1 L1024.4,1061.5 L1030.8,1032.3 L1035.7,1046.1 L1040.6,1072.9 L1047.1,1046.1 L1051.9,1036.4 L1056.8,1075.3 L1064.9,1062.3 L1074.7,1049.4 L1077.9,1079.4 L1084.4,1054.2 L1089.3,1029.9 L1097.4,1041.2 L1107.1,1065.6 L1116.9,1064 L1125,1039.6 L1129.9,1032.3 L1134.7,1036.4 L1141.2,1028.2 L1149.4,1046.1 L1155.8,1068 L1164,1071.3 L1172.1,1051 L1178.6,1037.2 L1188.3,1054.2 L1196.4,1075.3 L1202.9,1083.4 L1211,1070.5 L1219.2,1065.6 L1225.6,1044.5 L1230.5,1042 L1235.4,1046.1 L1240.3,1036.4 L1246.8,1046.1 L1253.2,1065.6 L1259.7,1060.7 L1266.2,1065.6 L1272.7,1054.2 L1277.6,1046.9 L1284.1,1059.1 L1292.2,1069.6 L1300.3,1065.6 L1308.4,1057.5 L1316.6,1048.5 L1324.7,1046.9 L1329.5,1038 L1336,1036.4 L1344.2,1020.1 L1350.6,1029.9 L1357.1,1054.2 L1365.3,1068.8 L1373.4,1077.8 L1378.2,1059.1 L1381.5,1020.1 L1389.6,1022.6 L1394.5,1046.1 L1400,1062.3 L1403.2,1038 L1409.7,1046.1 L1417.9,1053.4 L1429.2,1029.1 L1435.7,1046.1 L1440.6,1068.8 L1444.6,1018.5 L1448.7,1046.1 L1456.8,1068.8 L1467.4,1028.2 L1471.4,1046.1 L1477.9,1068 L1484.4,1046.1 L1490.1,1009.6 L1495.8,1038 L1500.6,1075.3 L1510.4,1046.1 L1516.9,1011.2 L1523.4,1033.1 L1529.9,1029.9 L1534.7,1037.2 L1539.6,1026.6 L1544.5,1013.6 L1549.4,1049.4 L1555.8,1041.2 L1560.7,1026.6 L1567.2,1018.5 L1572.1,1046.1 L1576.9,1055.8 L1581.8,1021.8 L1588.3,1000.6 L1596.4,1065.6 L1601.3,1006.3 L1606.2,1029.9 L1611,1005.5 L1617.5,1041.2 L1624,1025 L1630.5,1038 L1640.3,1069.6 L1648.4,1013.6 L1659.7,998.2 L1666.2,1021.8 L1672.7,1044.5 L1682.5,1006.3 L1690.6,1023.4 L1697.1,1013.6 L1700.3,1002.3 L1705.2,1045.3 L1716.6,1010.4 L1723.1,1025.8 L1727.9,1021.8 L1732.8,1003.9 L1744.2,1048.5 L1754.7,995.8 L1758.8,1029.9 L1760,998.7 L1763.2,1045.8 L1771.4,1004.4 L1779.5,1049.9 L1786,1066.1 L1797.3,1056.4 L1800.6,1082.3 L1802,1086 L1805.5,1116.5 L1809,1092.3 L1812.5,1119.6 L1816,1092.4 L1819.5,1120.1 L1823,1094.4 L1826.5,1118.7 L1830,1091 L1833.5,1119.6 L1837,1085.3 L1840.5,1122.9 L1844,1080.5 L1847.5,1125.8 L1851,1087.7 L1854.5,1128.2 L1858,1086.4 L1861.5,1124.2 L1865,1089.6 L1868.5,1118.5 L1872,1084.6 L1875.5,1111.4 L1879,1083.3 L1882.5,1111.8 L1886,1087.7 L1889.5,1124.8 L1893,1085.6 L1896.5,1125.8 L1900,1078.5 L1903.5,1114.4 L1907,1070.9 L1910.5,1094.8 L1914.2,1082.3 L1922.3,1067.7 L1932.1,1063.7 L1938.6,1071.8 L1943.4,1082.3 L1948.3,1092.1 L1954.8,1096.9 L1964.5,1111.6 L1971,1101.8 L1977.5,1096.9 L1984,1084 L1992.1,1084 L1998.6,1069.4 L2005.1,1066.1 L2014.9,1061.2 L2023,1071 L2027.9,1080.7 L2032.7,1075.8 L2037.6,1093.7 L2047.3,1075 L2057.1,1076.7 L2065.2,1067.7 L2073.3,1065.3 L2079.8,1049.9 L2086.3,1045 L2094.4,1054.7 L2100.9,1058 L2109,1067.7 L2117.1,1064.5 L2125.3,1072.6 L2133.4,1071 L2139.9,1061.2 L2149.6,1051.5 L2156.1,1048.2 L2160,1055 L2166.5,1059.9 L2173,1071.3 L2181.1,1062.3 L2184.4,1061.5 L2195.7,1072.1 L2202.2,1063.1 L2207.1,1078.6 L2215.2,1085.9 L2223.3,1078.6 L2224.9,1037.2 L2231.4,1049.4 L2236.3,1038 L2242.8,1046.1 L2247.7,1028.2 L2250.9,1064.8 L2260.6,1053.4 L2267.1,1046.9 L2273.6,1026.6 L2278.5,1038 L2283.4,1034.7 L2289.9,1046.1 L2296.4,1064.8 L2301.2,1029.9 L2307.7,1016.9 L2314.2,1038 L2322.3,1070.5 L2328.8,1082.6 L2333.7,1054.2 L2336.9,1042.9 L2346.7,1062.3 L2353.2,1078.6 L2361.3,1046.1 L2367.8,1031.5 L2375.9,1046.1 L2380.8,1026.6 L2385.6,1014.4 L2393.8,1034.7 L2400.3,1054.2 L2406.8,1068.8 L2413.2,1076.1 L2418.1,1046.1 L2423,1019.3 L2429.5,1026.6 L2436,1042.9 L2440.8,1021.8 L2445.7,999 L2452.2,1021.8 L2458.7,1058.3 L2465.2,1038 L2471.7,1025 L2478.2,1027.4 L2484.7,1025 L2491.2,1046.1 L2497.7,1062.3 L2500,1038 L2509.7,1019.3 L2516.2,1046.1 L2524.4,1067.2 L2532.5,1046.1 L2540.6,1029.1 L2548.7,1038 L2556.8,1034.7 L2564.9,1029.1 L2573.1,1032.3 L2581.2,1046.1 L2590.9,1062.3 L2597.4,1046.1 L2600.6,1030.7 L2610.4,1041.2 L2616.9,1026.6 L2622.6,1015.3 L2629.9,1023.4 L2636.4,1029.9 L2642.9,1029.9 L2649.4,1043.7 L2654.2,1028.2 L2662.3,1037.2 L2667.2,1025 L2672.1,1034.7 L2675.3,1025 L2681.8,1034.7 L2685.9,1025 L2689.9,1042 L2694.8,1025.8 L2701.3,1042.9 L2705.4,1025.8 L2709.4,1037.2 L2714.3,1025.8 L2718.3,1029.9 L2722.4,1039.6 L2725.6,1038.8 L2730.5,1026.6 L2733.8,1037.2 L2737.8,1029.9 L2742,1036 L2744.3,1030 L2750.8,978 L2752.1,900 L2755.8,619.6 L2760.4,641.6 L2764.4,679.2 L2773.8,684.6 L2780.5,708.7 L2789.1,746.6 L2796.6,712.8 L2803.4,712.8 L2806,681.9 L2810.1,674.1 L2816.8,689.9 L2823.5,674.6 L2831.5,680.5 L2839.6,681.9 L2847.7,658.5 L2857,649.7 L2862,640 L2864,800 L2868,940 L2873.2,1088.2 L2885,1040 L2901.2,1036 L2908.6,1034.5 L2916,1039.7 L2921.9,1040.4 L2927.8,1034.5 L2932.2,1025.5 L2938.1,1036 L2945.5,1038.9 L2949.9,1044.7 L2955.8,1038.9 L2961.7,1031.5"/>
<path class="s" stroke="#98B954" d="M466,1012 L808.9,1012 L810.1,1040 L814.1,1120 L820.3,1287.8 L837.7,1287.8 L843.6,1356.2 L848.5,1482.4 L863.2,1483 L874,1498.5 L894.1,1498.5 L897.3,1494.5 L903,1447 L920.9,1447 L925.8,1416.6 L929.8,1120 L931,1077.6 L950.2,1077.6 L951.9,1016.5 L975.8,1016.5 L980.5,978 L985,968.5 L992,966.5 L1024.3,964.2 L1031.3,964.7 L1041.8,969.4 L1055.7,969.4 L1069.7,958.1 L1085.4,956.9 L1086,956.8 L1099,953.6 L1113.6,953.6 L1120.9,959.3 L1126.6,970.6 L1159.1,971.4 L1168.8,977.9 L1175.3,976.3 L1193.2,975.8 L1207.8,969.3 L1222.4,969 L1235.4,962.5 L1250.8,962.2 L1255.7,967.4 L1262.2,975.5 L1280.8,975.8 L1292.2,977.9 L1306.8,977.9 L1313.3,984.4 L1321.4,1002.3 L1334.4,1002.3 L1345.8,982 L1362,981.7 L1367.7,997.4 L1371.8,1053.4 L1389.6,1053.4 L1400,1048.5 L1421.1,1047.7 L1429.2,1045 L1495,1045 L1502.3,1046.9 L1510.4,1058.3 L1525,1059.1 L1536.4,1068.8 L1581,1068.8 L1592.4,1062.3 L1611,1062.3 L1616.7,1065.6 L1622.1,1072.9 L1636.2,1073.4 L1639.4,1077.8 L1644.8,1092.4 L1692.2,1092.4 L1701.9,1094.8 L1768.5,1094.8 L1776.6,1094 L1779.2,1095.8 L1787.6,991.4 L1789,988.7 L1811.7,988.7 L1816.5,903.8 L1831.9,903.8 L1840.1,902.2 L1857.9,902.2 L1866,903.8 L1913.1,903.8 L1924.5,907.4 L1944,907.4 L1951.3,920.1 L1955.3,930.9 L1982.9,930.9 L1994.3,928.2 L2010.5,930.9 L2081.9,930.9 L2088.4,944.4 L2091.7,946.9 L2135.5,946.9 L2145.3,952.5 L2158.2,952.5 L2160,951.9 L2166.5,950.3 L2176.2,945.5 L2220.9,945.5 L2226.6,953.6 L2231.4,986 L2237.9,990.1 L2246,986 L2250.1,964.9 L2254.2,948.7 L2257.4,947.9 L2302.9,947.9 L2330.5,945.5 L2341.8,939.8 L2359.7,939.8 L2369.4,943.3 L2395.4,943.3 L2401.9,953.6 L2410,1013.6 L2417.3,1070.5 L2421.4,1076.1 L2465.2,1076.1 L2473.3,1072.9 L2494.4,1072.9 L2498.5,1062.3 L2505.8,1000.6 L2509,993.3 L2522.8,993.3 L2523.5,993.3 L2526.8,1013.6 L2532.5,1054.2 L2534.9,1068.8 L2552.8,1068.8 L2556,1041.2 L2564.1,953.6 L2564.9,951.9 L2579.5,951.9 L2584.4,986 L2589.8,1067.2 L2605.5,1071.3 L2613.6,1081.8 L2620.9,1088.3 L2629.9,1088.3 L2635.6,1078.6 L2639.6,1013.6 L2640.4,1012 L2745.5,1012 L2750,1140 L2753.9,1280 L2756.5,1365.4 L2773.6,1365.4 L2784.3,1615.4 L2813.1,1615.4 L2818.2,1609 L2823.3,1601.9 L2832.2,1605.2 L2839.1,1627.6 L2856.4,1627.6 L2858,1280 L2860.5,800 L2862,548 L2868,432.6 L2883,432.6 L2887,800 L2893.1,1071.4 L2894.6,1098.6 L2908.6,1098.6 L2921.9,1073 L2966.5,1073 L2968,1044"/>
</g>
<g fill="none" stroke-width="19" stroke-linecap="round">
<line x1="368.5" y1="124" x2="527.5" y2="124" stroke="#4A7EBB"/>
<line x1="1592.5" y1="124" x2="1751.5" y2="124" stroke="#BE4B48"/>
<line x1="368.5" y1="266" x2="527.5" y2="266" stroke="#98B954"/>
</g>
<text x="544.5" y="150">Synchronous Generator 1</text>
<text x="1768" y="150">Synchronous Generator 2</text>
<text x="545" y="292.5">Wind Generator</text>
<text transform="translate(394.7,513.5) scale(1,1.035)" text-anchor="end">220</text>
<text transform="translate(394.7,751.5) scale(1,1.035)" text-anchor="end">120</text>
<text transform="translate(394.7,989.5) scale(1,1.035)" text-anchor="end">20</text>
<text transform="translate(394.7,1227.5) scale(1,1.035)" text-anchor="end">-80</text>
<text transform="translate(394.7,1465.5) scale(1,1.035)" text-anchor="end">-180</text>
<text transform="translate(394.7,1703.5) scale(1,1.035)" text-anchor="end">-280</text>
<text transform="translate(466.5,1136) scale(1,1.035)" text-anchor="middle">0.0</text>
<text transform="translate(743.1,1136) scale(1,1.035)" text-anchor="middle">10.0</text>
<text transform="translate(1019.7,1136) scale(1,1.035)" text-anchor="middle">20.0</text>
<text transform="translate(1296.3,1136) scale(1,1.035)" text-anchor="middle">30.0</text>
<text transform="translate(1572.9,1136) scale(1,1.035)" text-anchor="middle">40.0</text>
<text transform="translate(1849.5,1136) scale(1,1.035)" text-anchor="middle">50.0</text>
<text transform="translate(2126.1,1136) scale(1,1.035)" text-anchor="middle">60.0</text>
<text transform="translate(2402.7,1136) scale(1,1.035)" text-anchor="middle">70.0</text>
<text transform="translate(2679.3,1136) scale(1,1.035)" text-anchor="middle">80.0</text>
<text transform="translate(2955.9,1136) scale(1,1.035)" text-anchor="middle">90.0</text>
<text x="1711" y="1767.8" text-anchor="middle">Time (Sec)</text>
<text transform="translate(186.5,1048.5) rotate(-90)" text-anchor="middle">Reactive Power (var)</text>
</svg></body></html>
